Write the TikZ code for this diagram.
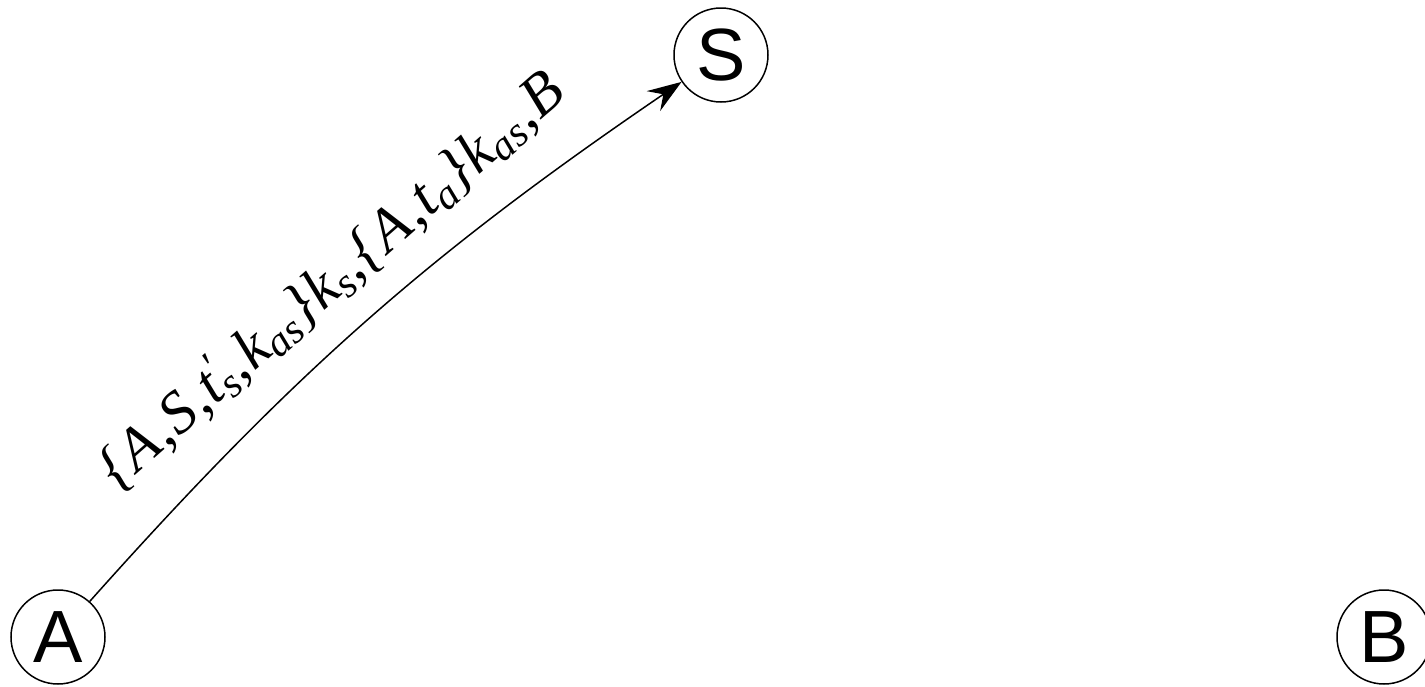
\documentclass[tikz,border=0pt]{standalone}
\usepackage{fontspec}
\setmainfont{Liberation Serif}
\newfontfamily\labelfont{Liberation Sans}
\newfontfamily\msgfont[LetterSpace=3]{Liberation Serif}
\usetikzlibrary{arrows.meta,positioning}

\begin{document}
\begin{tikzpicture}[x=0.5pt,y=-0.5pt,>={Stealth[length=17pt,width=12pt,inset=6pt]},
  agent/.style={draw,circle,line width=0.75pt,minimum size=47pt,inner sep=0pt,font=\labelfont\fontsize{37}{37}\selectfont},
  msg/.style={font=\msgfont\itshape\fontsize{30}{30}\selectfont,inner sep=13pt}]
\useasboundingbox (0,0) rectangle (1425,686);
\node[agent] (A) at (58,637) {A};
\node[agent] (S) at (721,55) {S};
\node[agent] (B) at (1384,637) {B};
\draw[->,line width=0.75pt] (A) to[bend left=7]
  node[msg,sloped,above,pos=0.5] {\{A,S,t\rlap{\textsuperscript{′}}\textsubscript{s},k\textsubscript{as}\}k\textsubscript{s},\{A,t\textsubscript{a}\}k\textsubscript{as},B} (S);
\end{tikzpicture}
\end{document}
